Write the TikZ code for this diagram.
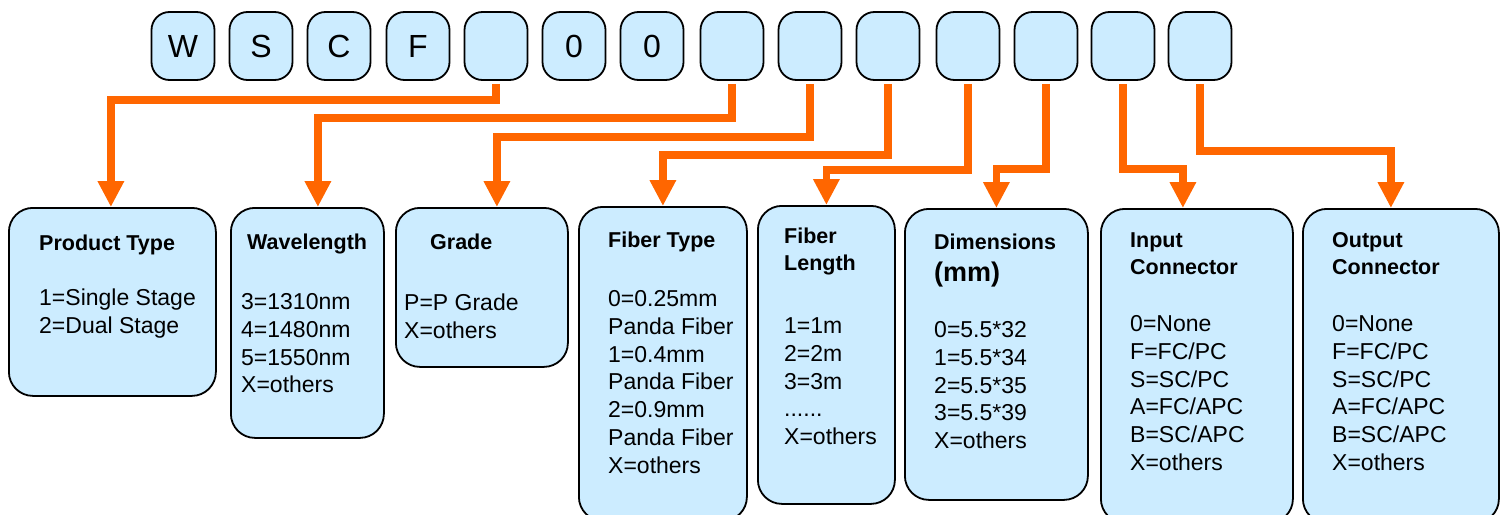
\documentclass[tikz,border=0pt]{standalone}
\usepackage{fontspec}
\setmainfont{Liberation Sans}
\usetikzlibrary{arrows.meta}
\definecolor{codeblue}{RGB}{204,236,255}
\definecolor{codeorange}{RGB}{255,102,0}
\tikzset{digit/.style={draw=black, line width=1.8pt, fill=codeblue, rounded corners=18pt, minimum width=63pt, minimum height=68pt, inner sep=0pt, font=\fontsize{32}{38}\selectfont}}
\tikzset{field/.style={draw=black, line width=1.8pt, fill=codeblue, rounded corners=24pt, anchor=north west, inner sep=0pt}}
% anchored at the baseline of the first line
\tikzset{ttl/.style={anchor=north west, yshift=17.4pt, inner sep=0pt, align=left, execute at begin node=\strut, font=\fontsize{21.5}{27}\selectfont\bfseries}}
\tikzset{body/.style={anchor=north west, yshift=16.4pt, inner sep=0pt, align=left, execute at begin node=\strut, font=\fontsize{23}{27.7}\selectfont}}
\tikzset{conn/.style={line width=7.5pt, color=codeorange, -{Triangle[width=25pt,length=26pt]}}}

\begin{document}
\begin{tikzpicture}[x=1pt, y=-1pt]
        \useasboundingbox (0,0) rectangle (1507,514);

        \node[digit] (L1) at (183, 46) {W};
        \node[digit] (L2) at (261, 46) {S};
        \node[digit] (L3) at (339, 46) {C};
        \node[digit] (L4) at (418, 46) {F};
        \node[digit] (L5) at (496, 46) {};
        \node[digit] (L6) at (574, 46) {0};
        \node[digit] (L7) at (652, 46) {0};
        \node[digit] (L8) at (732, 46) {};
        \node[digit] (L9) at (810, 46) {};
        \node[digit] (L10) at (888, 46) {};
        \node[digit] (L11) at (968, 46) {};
        \node[digit] (L12) at (1046, 46) {};
        \node[digit] (L13) at (1123, 46) {};
        \node[digit] (L14) at (1200, 46) {};

        \node[field, minimum width=207, minimum height=188] (ptype) at (8, 207) {};
        \node[field, minimum width=153, minimum height=230] (wlen) at (230, 207) {};
        \node[field, minimum width=172, minimum height=159] (grade) at (395, 207) {};
        \node[field, minimum width=168, minimum height=314] (ftype) at (578, 206) {};
        \node[field, minimum width=137, minimum height=298] (flen) at (757, 205) {};
        \node[field, minimum width=183, minimum height=291] (dims) at (904, 208) {};
        \node[field, minimum width=192, minimum height=314] (incon) at (1100, 208) {};
        \node[field, minimum width=196, minimum height=314] (outcon) at (1302, 208) {};

        \node[ttl] (ptypeT) at (39, 249) {Product Type};
        \node[body] (ptypeB) at (39, 305) {1=Single Stage\\2=Dual Stage};
        \node[ttl] (wlenT) at (247, 248) {Wavelength};
        \node[body] (wlenB) at (241, 310) {3=1310nm\\4=1480nm\\5=1550nm\\X=others};
        \node[ttl] (gradeT) at (430, 248) {Grade};
        \node[body] (gradeB) at (404, 310) {P=P Grade\\X=others};
        \node[ttl] (ftypeT) at (608, 246) {Fiber Type};
        \node[body] (ftypeB) at (608, 307) {0=0.25mm\\Panda Fiber\\1=0.4mm\\Panda Fiber\\2=0.9mm\\Panda Fiber\\X=others};
        \node[ttl] (flenT) at (784, 245) {Fiber\\Length};
        \node[body] (flenB) at (784, 334) {1=1m\\2=2m\\3=3m\\......\\X=others};
        \node[ttl] (dimsT) at (934, 248) {Dimensions};
        \node[anchor=base west, inner sep=0pt, font=\fontsize{27}{32}\selectfont\bfseries] (dimsU) at (934, 281) {(mm)};
        \node[body] (dimsB) at (934, 338) {0=5.5*32\\1=5.5*34\\2=5.5*35\\3=5.5*39\\X=others};
        \node[ttl] (inconT) at (1130, 250) {Input\\Connector};
        \node[body] (inconB) at (1130, 332) {0=None\\F=FC/PC\\S=SC/PC\\A=FC/APC\\B=SC/APC\\X=others};
        \node[ttl] (outconT) at (1332, 250) {Output\\Connector};
        \node[body] (outconB) at (1332, 332) {0=None\\F=FC/PC\\S=SC/PC\\A=FC/APC\\B=SC/APC\\X=others};

        \draw [conn] ([yshift=-3pt]L5.south) -- ++(0, 16) -| ([xshift=-1.5pt]ptype.north);
        \draw [conn] ([yshift=-3pt]L8.south) -- ++(0, 34) -| ([xshift=10.5pt]wlen.north);
        \draw [conn] ([yshift=-3pt]L9.south) -- ++(0, 53) -| ([xshift=15pt]grade.north);
        \draw [conn] ([yshift=-3pt]L10.south) -- ++(0, 71) -| (ftype.north);
        \draw [conn] ([yshift=-3pt]L11.south) -- ++(0, 86) -| (flen.north);
        \draw [conn] ([yshift=-3pt]L12.south) -- ++(0, 85) -| (dims.north);
        \draw [conn] ([yshift=-3pt]L13.south) -- ++(0, 85) -| ([xshift=-14pt]incon.north);
        \draw [conn] ([yshift=-3pt]L14.south) -- ++(0, 67) -| ([xshift=-10pt]outcon.north);
\end{tikzpicture}
\end{document}
